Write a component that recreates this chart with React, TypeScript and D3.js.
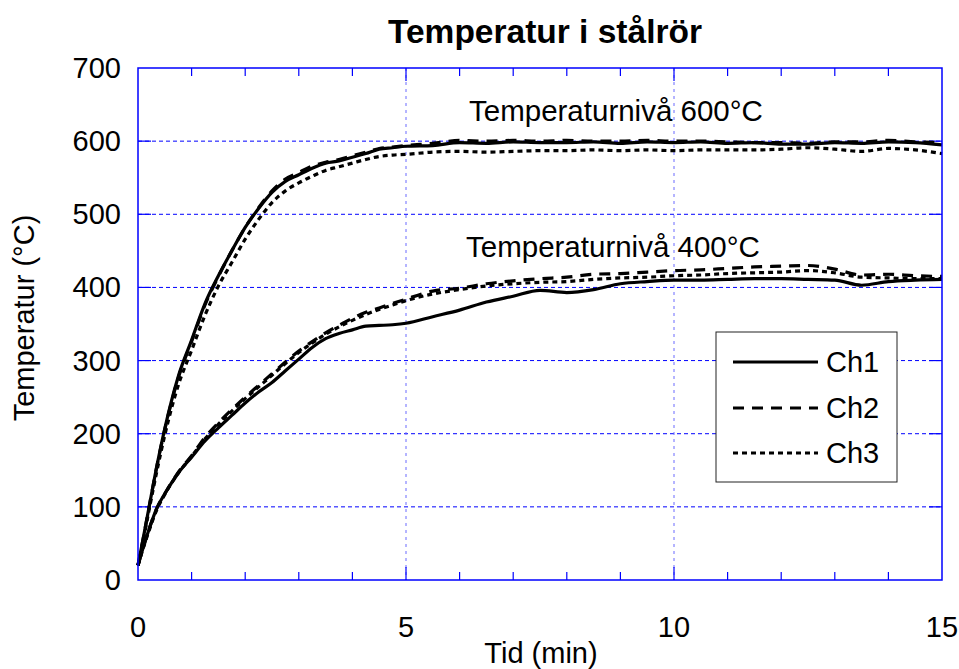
import React from "react";
import * as d3 from "d3";

const TIME = [0, 0.1, 0.2, 0.35, 0.5, 0.75, 1, 1.25, 1.5, 1.75, 2, 2.25, 2.5, 2.75, 3, 3.25, 3.5, 3.75, 4, 4.25, 4.5, 4.75, 5, 5.5, 6, 6.5, 7, 7.5, 8, 8.5, 9, 9.5, 10, 10.5, 11, 11.5, 12, 12.5, 13, 13.5, 14, 14.5, 15];

const HI_CH1 = [20, 58, 97, 155, 207, 278, 328, 378, 416, 450, 482, 508, 530, 545, 554, 563, 570, 573, 578, 583, 589, 591, 593, 594, 598, 597, 599, 598, 598, 599, 597, 599, 598, 599, 597, 598, 596, 596, 598, 597, 599, 598, 595];
const HI_CH2 = [20, 58, 97, 155, 206, 276, 326, 376, 415, 450, 482, 509, 532, 548, 557, 566, 571, 575, 580, 585, 590, 592, 594, 597, 601, 600, 601, 600, 601, 600, 600, 601, 600, 600, 599, 598, 598, 597, 599, 599, 601, 599, 598];
const HI_CH3 = [20, 55, 93, 148, 198, 266, 314, 362, 402, 434, 466, 493, 516, 532, 543, 552, 560, 565, 570, 575, 579, 581, 582, 585, 586, 585, 586, 587, 587, 588, 587, 588, 587, 588, 588, 588, 589, 591, 589, 586, 590, 588, 583];

const LO_CH1 = [20, 45, 68, 98, 118, 146, 168, 190, 208, 225, 242, 257, 270, 286, 302, 318, 330, 337, 342, 347, 348, 349, 351, 360, 369, 380, 388, 396, 393, 397, 405, 408, 410, 410, 411, 412, 412, 411, 410, 403, 408, 410, 411];
const LO_CH2 = [20, 45, 68, 98, 118, 147, 170, 195, 215, 233, 250, 266, 282, 298, 313, 326, 338, 348, 358, 366, 372, 378, 384, 395, 399, 405, 409, 412, 414, 418, 419, 421, 423, 424, 426, 428, 429, 430, 425, 417, 418, 416, 415];
const LO_CH3 = [20, 44, 66, 96, 117, 146, 169, 193, 213, 231, 248, 264, 280, 296, 311, 324, 336, 346, 355, 363, 370, 376, 382, 391, 397, 402, 405, 407, 408, 411, 413, 414, 416, 417, 419, 420, 421, 423, 420, 414, 413, 412, 412];

const X_TICKS = [0, 5, 10, 15];
const X_MINOR = [1, 2, 3, 4, 6, 7, 8, 9, 11, 12, 13, 14];
const Y_TICKS = [0, 100, 200, 300, 400, 500, 600, 700];
const LEGEND_NAMES = ["Ch1", "Ch2", "Ch3"];
const TITLE = "Temperatur i stålrör";
const X_LABEL = "Tid (min)";
const Y_LABEL = "Temperatur (°C)";
const NOTE_600 = "Temperaturnivå 600°C";
const NOTE_400 = "Temperaturnivå 400°C";

const W = 959, H = 669;
const L = 138, R = 942, T = 68, B = 580;
const FONT = "'Liberation Sans', Arial, sans-serif";
const BLUE = "#0000ff";

const DASHES = ["none", "11,8", "5,4"];

export default function App() {
  const x = d3.scaleLinear().domain([0, 15]).range([L, R]);
  const y = d3.scaleLinear().domain([0, 700]).range([B, T]);
  const line = d3
    .line<number>()
    .x((_, i) => x(TIME[i]))
    .y((d) => y(d))
    .curve(d3.curveMonotoneX);

  const series = [
    { v: HI_CH1, dash: DASHES[0] },
    { v: HI_CH2, dash: DASHES[1] },
    { v: HI_CH3, dash: DASHES[2] },
    { v: LO_CH1, dash: DASHES[0] },
    { v: LO_CH2, dash: DASHES[1] },
    { v: LO_CH3, dash: DASHES[2] },
  ];

  const legX = 716, legY = 332, legW = 181, legH = 150;
  const legRows = [362, 408, 453];

  return (
    <svg
      width={W}
      height={H}
      style={{ position: "absolute", left: 0, top: 0, background: "#fff" }}
      fontFamily={FONT}
    >
      <rect x={0} y={0} width={W} height={H} fill="#fff" />
      {Y_TICKS.filter((v) => v > 0 && v < 700).map((v) => (
        <line key={"gy" + v} x1={L} x2={R} y1={y(v)} y2={y(v)} stroke={BLUE} strokeWidth={1} strokeDasharray="4,3" />
      ))}
      {[5, 10].map((v) => (
        <line key={"gx" + v} x1={x(v)} x2={x(v)} y1={T} y2={B} stroke="#6b6bff" strokeWidth={1} strokeDasharray="3,4" />
      ))}
      {Y_TICKS.filter((v) => v > 0 && v < 700).map((v) => (
        <g key={"ty" + v}>
          <line x1={L} x2={L + 13} y1={y(v)} y2={y(v)} stroke={BLUE} strokeWidth={1.2} />
          <line x1={R - 13} x2={R} y1={y(v)} y2={y(v)} stroke={BLUE} strokeWidth={1.2} />
        </g>
      ))}
      {X_MINOR.map((v) => (
        <g key={"tx" + v}>
          <line x1={x(v)} x2={x(v)} y1={B} y2={B - 8} stroke={BLUE} strokeWidth={1.2} />
          <line x1={x(v)} x2={x(v)} y1={T} y2={T + 8} stroke={BLUE} strokeWidth={1.2} />
        </g>
      ))}
      {[5, 10].map((v) => (
        <g key={"tX" + v}>
          <line x1={x(v)} x2={x(v)} y1={B} y2={B - 13} stroke={BLUE} strokeWidth={1.2} />
          <line x1={x(v)} x2={x(v)} y1={T} y2={T + 13} stroke={BLUE} strokeWidth={1.2} />
        </g>
      ))}
      {series.map((s, i) => (
        <path
          key={"s" + i}
          d={line(s.v) || ""}
          fill="none"
          stroke="#000"
          strokeWidth={3.2}
          strokeDasharray={s.dash}
          strokeLinejoin="round"
        />
      ))}
      <rect x={L} y={T} width={R - L} height={B - T} fill="none" stroke={BLUE} strokeWidth={1.5} />
      {Y_TICKS.map((v) => (
        <text key={"ly" + v} x={121} y={y(v) + 10} textAnchor="end" fontSize={29} fill="#000">
          {v}
        </text>
      ))}
      {X_TICKS.map((v) => (
        <text key={"lx" + v} x={x(v)} y={637} textAnchor="middle" fontSize={29} fill="#000">
          {v}
        </text>
      ))}
      <text x={545} y={43} textAnchor="middle" fontSize={33.5} fontWeight="bold" fill="#000">
        {TITLE}
      </text>
      <text x={541} y={663} textAnchor="middle" fontSize={29} fill="#000">
        {X_LABEL}
      </text>
      <text transform="translate(34,318) rotate(-90)" textAnchor="middle" fontSize={29} fill="#000">
        {Y_LABEL}
      </text>
      <text x={469} y={121} fontSize={29.5} fill="#000">
        {NOTE_600}
      </text>
      <text x={466} y={257} fontSize={29.5} fill="#000">
        {NOTE_400}
      </text>
      <rect x={legX} y={legY} width={legW} height={legH} fill="#fff" stroke="#222" strokeWidth={1} />
      {LEGEND_NAMES.map((n, i) => (
        <g key={"lg" + n}>
          <line x1={733} x2={818} y1={legRows[i]} y2={legRows[i]} stroke="#000" strokeWidth={3} strokeDasharray={DASHES[i]} />
          <text x={826} y={legRows[i] + 10} fontSize={29} fill="#000">
            {n}
          </text>
        </g>
      ))}
    </svg>
  );
}
